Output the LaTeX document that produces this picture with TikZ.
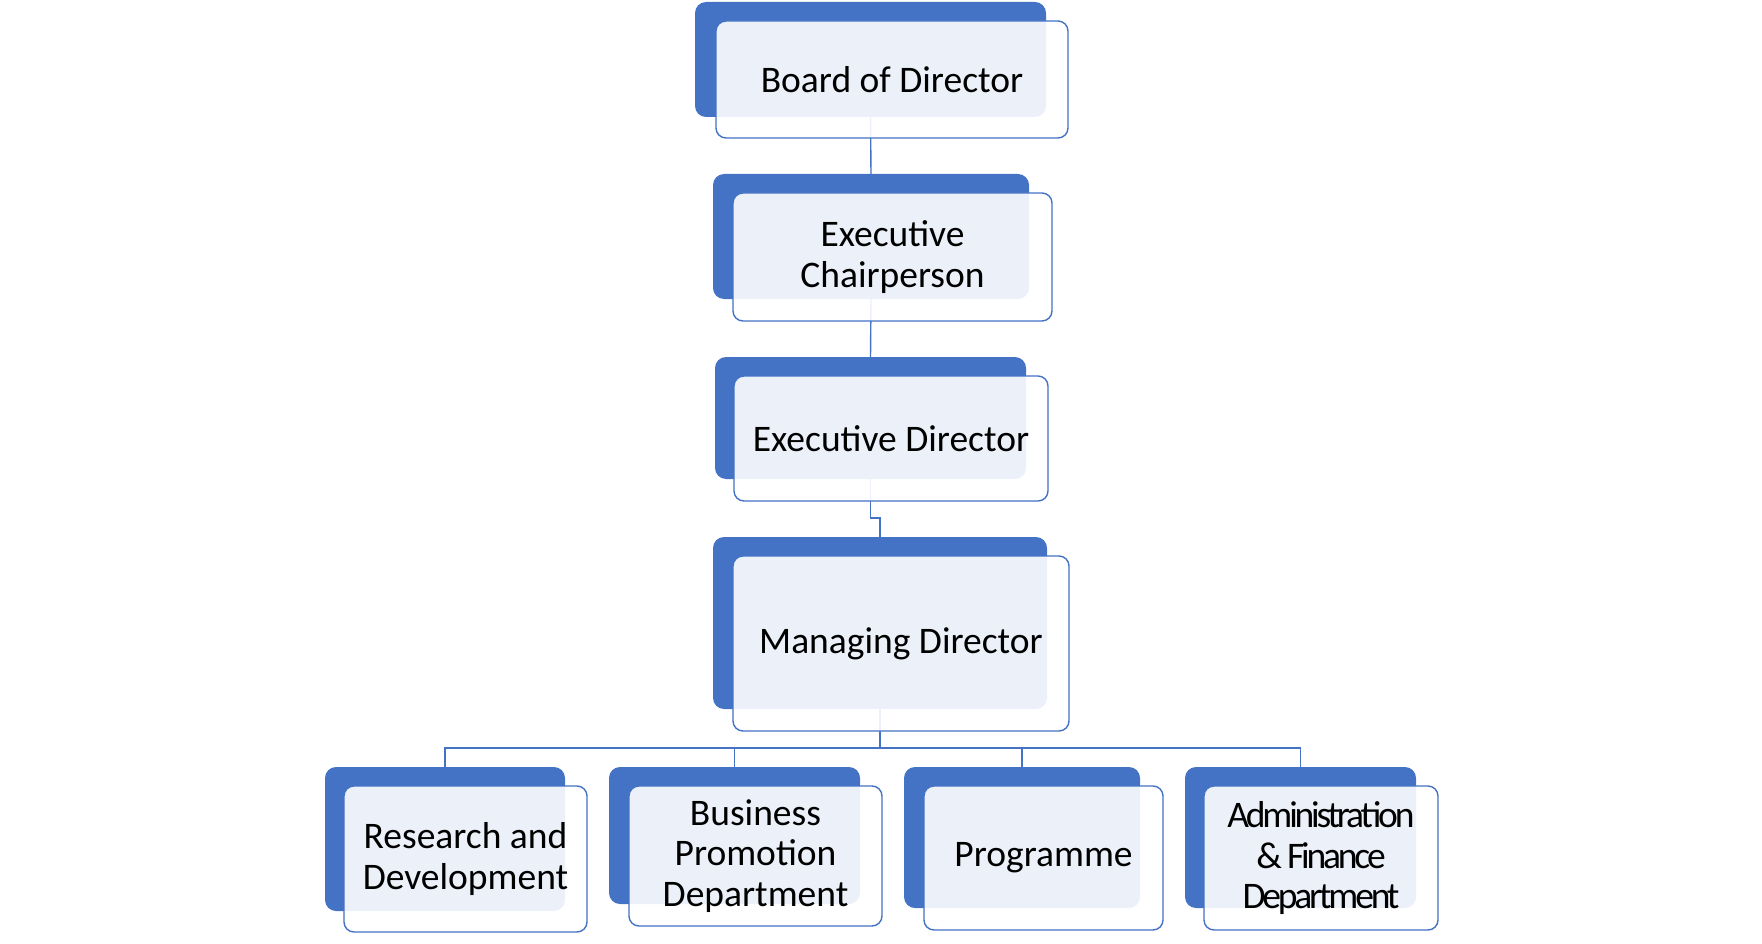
\documentclass[tikz,border=0pt]{standalone}
\usepackage{fontspec}
\setmainfont{Carlito}
\usetikzlibrary{backgrounds}
\definecolor{accent}{HTML}{4472C4}
\tikzset{
  x=1pt, y=-1pt,
  sized/.style n args={2}{minimum width=#1, minimum height=#2},
  backbox/.style={fill=accent, rounded corners=11pt, inner sep=0pt},
  frontbox/.style={draw=accent, line width=1.4pt, fill=white, fill opacity=0.9,
    text opacity=1, rounded corners=10pt, inner sep=0pt, align=center,
    font=\fontsize{37.5}{40.5}\selectfont},
  tight/.style={font=\fontsize{37.5}{40.5}\selectfont\addfontfeature{LetterSpace=-8.5}},
  link/.style={draw=accent, line width=1.4pt},
}
\begin{document}
\begin{tikzpicture}
\useasboundingbox (0,0) rectangle (1762,944);
% back (blue) boxes
\node[backbox, sized={351}{115}] (bodB) at (870.5,59.5) {};
\node[backbox, sized={316}{125}] (ecB) at (871,236.5) {};
\node[backbox, sized={311}{122}] (edB) at (870.5,418) {};
\node[backbox, sized={334}{172}] (mdB) at (880,623) {};
\node[backbox, sized={240}{144}] (rdB) at (445,839) {};
\node[backbox, sized={251}{137}] (bpB) at (734.5,835.5) {};
\node[backbox, sized={236}{141}] (prB) at (1022,837.5) {};
\node[backbox, sized={231}{141}] (afB) at (1300.5,837.5) {};
% front boxes
\node[frontbox, sized={352}{117}] (bod) at (892,79.5) {Board of Director};
\node[frontbox, sized={319}{128}] (ec) at (892.5,257) {Executive\\Chairperson};
\node[frontbox, sized={314}{125}] (ed) at (891,438.5) {Executive Director};
\node[frontbox, sized={336}{175}] (md) at (901,643.5) {Managing Director};
\node[frontbox, sized={243}{146}] (rd) at (465.5,859) {Research and\\Development};
\node[frontbox, sized={253}{140}] (bp) at (755.5,856) {Business\\Promotion\\Department};
\node[frontbox, sized={239}{144}] (pr) at (1043.5,858) {Programme};
\node[frontbox, tight, sized={234}{144}] (af) at (1321,858) {Administration\\\& Finance\\Department};
% connectors
\coordinate (jog) at (0,518);
\coordinate (bus) at (880,748);
\begin{scope}[on background layer]
\draw[link] (bodB.south) -- (ecB.north);
\draw[link] (ecB.south) -- (edB.north);
\draw[link] (edB.south) -- (edB.south |- jog) -| (mdB.north);
\draw[link] (mdB.south) -- (bus) -| (rdB.north);
\draw[link] (bus) -| (bpB.north);
\draw[link] (bus) -| (prB.north);
\draw[link] (bus) -| (afB.north);
\end{scope}
\end{tikzpicture}
\end{document}
